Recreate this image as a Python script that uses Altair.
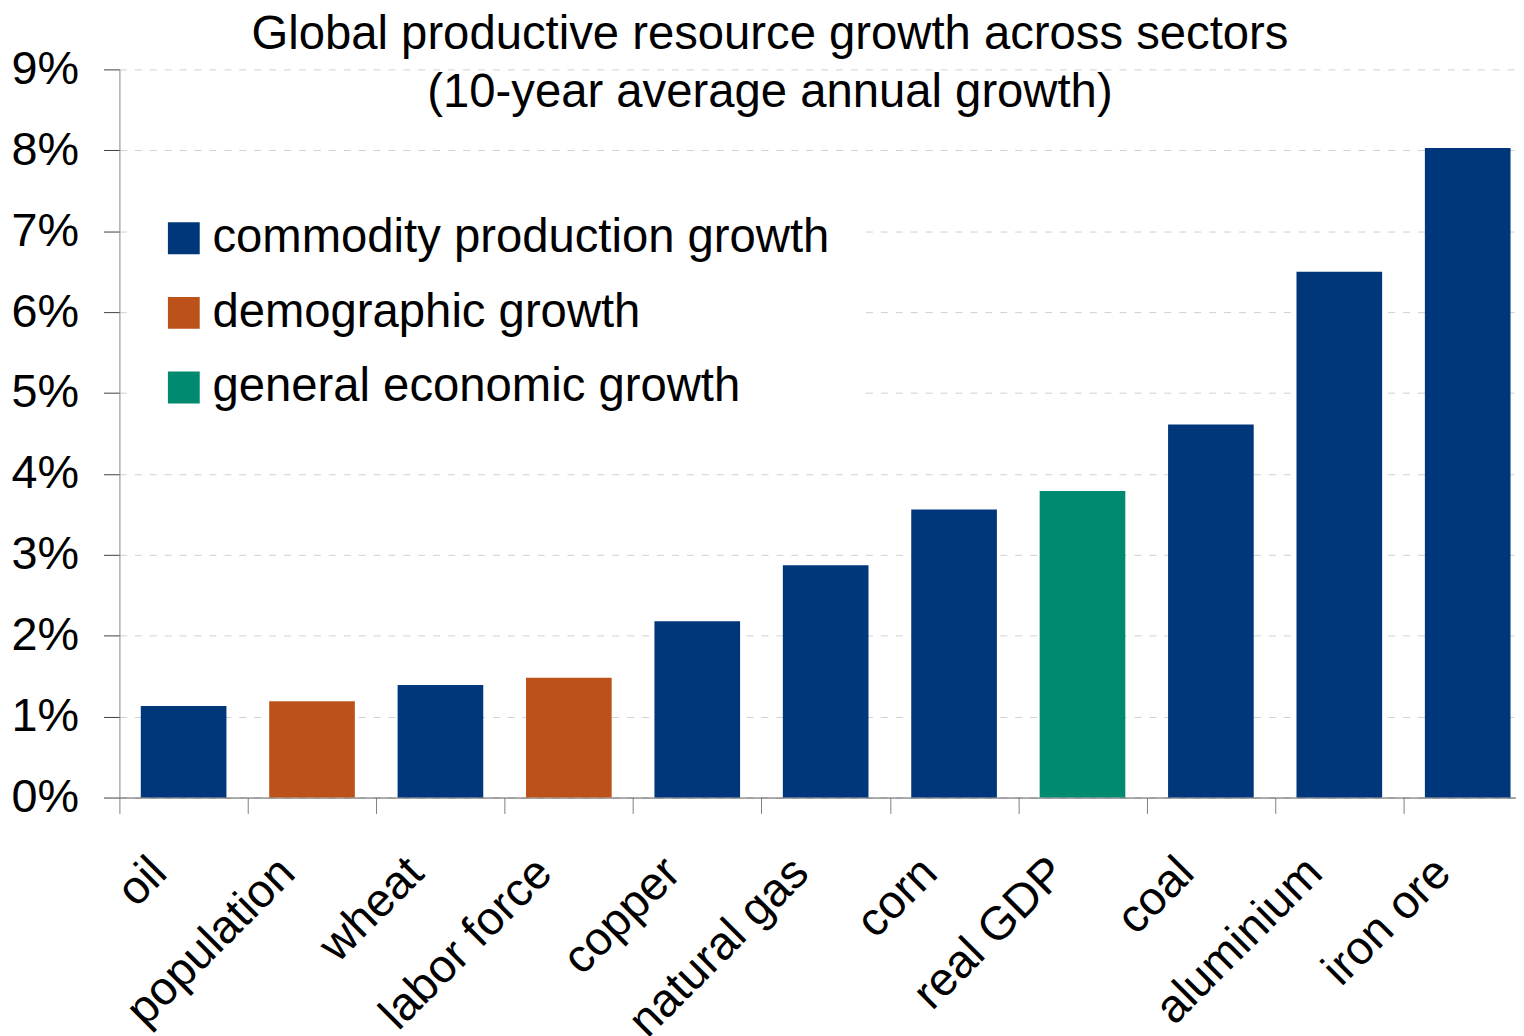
import altair as alt
import pandas as pd

categories = ["oil", "population", "wheat", "labor force", "copper", "natural gas",
              "corn", "real GDP", "coal", "aluminium", "iron ore"]
growth = [1.13, 1.19, 1.39, 1.48, 2.18, 2.87, 3.56, 3.79, 4.61, 6.50, 8.03]
groups = ["commodity production growth", "demographic growth", "commodity production growth",
          "demographic growth", "commodity production growth", "commodity production growth",
          "commodity production growth", "general economic growth", "commodity production growth",
          "commodity production growth", "commodity production growth"]
group_names = ["commodity production growth", "demographic growth", "general economic growth"]
group_colors = ["#00377A", "#BC521A", "#008A70"]
y_ticks = [0, 1, 2, 3, 4, 5, 6, 7, 8, 9]
title_lines = ["Global productive resource growth across sectors",
               "(10-year average annual growth)"]

df = pd.DataFrame({"category": categories, "growth": growth, "group": groups})

FONT = "Liberation Sans"

chart = alt.Chart(df).mark_bar(width=alt.RelativeBandSize(0.667)).encode(
    x=alt.X(
        "category:N", sort=categories,
        scale=alt.Scale(paddingInner=0, paddingOuter=0),
        axis=alt.Axis(title=None, labelAngle=-45, labelAlign="right", labelBaseline="middle",
                      labelFontSize=47, labelFont=FONT, labelColor="black",
                      labelPadding=52, labelOffset=-25, tickBand="extent", tickSize=16,
                      tickColor="#808080", domainColor="#595959", grid=False,
                      labelOverlap=False, labelBound=False, labelLimit=500),
    ),
    y=alt.Y(
        "growth:Q",
        scale=alt.Scale(domain=[0, 9], nice=False),
        axis=alt.Axis(title=None, values=y_ticks, labelExpr="datum.value + '%'",
                      labelFontSize=47, labelFont=FONT, labelColor="black",
                      tickSize=16, labelPadding=25, grid=True, gridDash=[7, 8],
                      gridColor="#D0D0D0", domainColor="#868686", tickColor="#404040"),
    ),
    color=alt.Color(
        "group:N",
        scale=alt.Scale(domain=group_names, range=group_colors),
        legend=alt.Legend(title=None, orient="none", legendX=11, legendY=116,
                          fillColor="white", padding=30, symbolType="square",
                          symbolSize=1024, symbolStrokeWidth=0, labelFontSize=47.5,
                          labelFont=FONT, labelColor="black", labelOffset=5,
                          rowPadding=26, labelLimit=800),
    ),
).properties(
    width=1420, height=732,
    padding={"left": 112, "top": 59, "right": -16, "bottom": 237},
    autosize=alt.AutoSizeParams(type="none"),
    title=alt.TitleParams(text=title_lines, fontSize=47.5, font=FONT, fontWeight="normal",
                          color="black", anchor="middle", frame="group", orient="top",
                          offset=-109, baseline="alphabetic", lineHeight=58, dx=-56),
).configure_view(stroke=None)

chart.save("out.html", embed_options={"renderer": "svg", "actions": False})
